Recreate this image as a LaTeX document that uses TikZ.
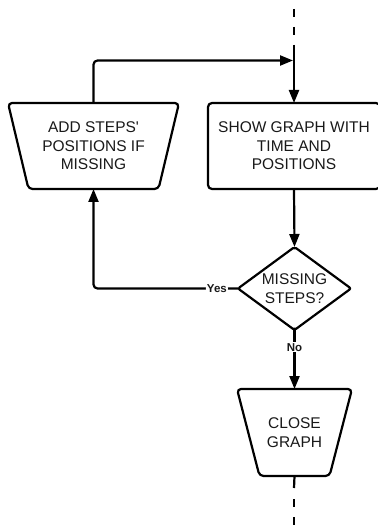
\documentclass[tikz,border=0pt]{standalone}
\usepackage{fontspec}
\setmainfont{Liberation Sans}[Ligatures=TeXOff]
\usetikzlibrary{arrows.meta}
\begin{document}
\begin{tikzpicture}[x=1pt,y=-1pt,
  line/.style={line width=2.2pt, draw=black},
  arr/.style={line, -{Triangle[length=13pt,width=10pt]}},
  dashline/.style={line, dash pattern=on 8pt off 10pt},
  txt/.style={font=\fontsize{15.5}{18.5}\selectfont, text=black!90, align=center, inner sep=0pt, outer sep=0pt},
  frame/.style={txt, minimum width=#1},
  procbox/.style={txt, draw=black, line width=2.2pt, rounded corners=4pt, minimum width=172pt, minimum height=86pt},
  tag/.style={font=\bfseries\fontsize{11.5}{13}\selectfont, text=black!90, fill=white, inner sep=1pt},
  outline/.style={line, rounded corners=4pt, line join=round}]
\useasboundingbox (0,0) rectangle (377,526);

% manual-operation boxes (trapezia) and the decision diamond
\node[frame=171pt, minimum height=86pt] (add) at (93.5,146) {ADD STEPS'\\POSITIONS IF\\MISSING};
\draw[outline] (add.north west) -- (add.north east) -- ([xshift=-20.5pt]add.south east) -- ([xshift=20.5pt]add.south west) -- cycle;

\node[procbox] (show) at (294,146) {SHOW GRAPH WITH\\TIME AND\\POSITIONS};

\node[frame=113pt, minimum height=83pt] (dec) at (294.5,288.5) {MISSING\\STEPS?};
\draw[line, rounded corners=2pt, line join=round] (dec.north) -- (dec.east) -- (dec.south) -- (dec.west) -- cycle;

\node[frame=115pt, minimum height=87pt] (close) at (294.5,432.5) {CLOSE\\GRAPH};
\draw[outline] (close.north west) -- (close.north east) -- ([xshift=-22.5pt]close.south east) -- ([xshift=22.5pt]close.south west) -- cycle;

% flow entry and exit points
\coordinate (entry) at (294,9);
\coordinate (entrysolid) at (294,45);
\coordinate (merge) at (293,60.5);
\coordinate (exitsolid) at (294,488);
\coordinate (exitdash) at (294,499);
\coordinate (exit) at (294,526);

% connectors
\draw[dashline] (entry) -- (entrysolid);
\draw[arr] (entrysolid) -- (show.north);
\draw[arr, rounded corners=4pt] (add.north) |- (merge);
\draw[arr] (show.south) -- (dec.north);
\draw[arr, rounded corners=4pt] (dec.west) -| node[tag, pos=0.073] (yes) {Yes} (add.south);
\draw[arr] (dec.south) -- node[tag, pos=0.29] (no) {No} (close.north);
\draw[line] (close.south) -- (exitsolid);
\draw[dashline] (exitdash) -- (exit);
\end{tikzpicture}
\end{document}
